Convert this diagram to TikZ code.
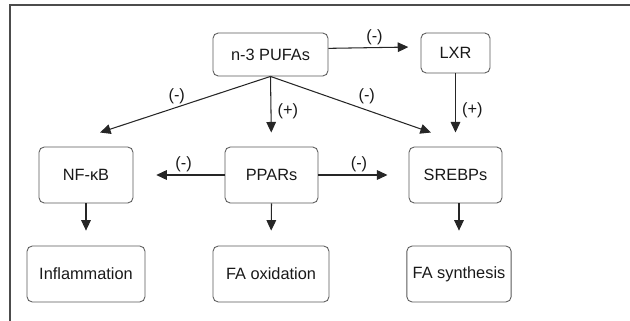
\documentclass[tikz,border=0pt]{standalone}
\usepackage{fontspec}
\setmainfont{Liberation Sans}
\usetikzlibrary{%
  arrows.meta,%
  positioning,%
  calc%
}

\begin{document}
\begin{tikzpicture}[
  x=0.02cm, y=-0.02cm,
  font=\fontsize{9.3}{10}\selectfont,
  >={Triangle[length=6pt,width=5.5pt]},
  line width=0.6pt,
  pbox/.style={rectangle, rounded corners=3pt, draw=black!65, text=black!90, line width=0.5pt, minimum height=1.12cm},
  link/.style={->, draw=black!85},
  sign/.style={text=black!90, inner sep=1.5pt}
]

\useasboundingbox (0,0) rectangle (630,321);
% frame
\draw[black!70, line width=1.1pt] (10,321) -- (10,5) -- (630,5);

\node[pbox, minimum width=2.3cm, minimum height=0.86cm] (pufa) at (270.5,54.5) {n-3 PUFAs};
\node[pbox, minimum width=1.38cm, minimum height=0.8cm] (lxr) at (455.5,53) {LXR};
\node[pbox, minimum width=1.88cm] (nfkb) at (86,175) {NF-κB};
\node[pbox, minimum width=1.86cm] (ppar) at (271.5,175) {PPARs};
\node[pbox, minimum width=1.86cm] (srebp) at (455.5,175) {SREBPs};
\node[pbox, minimum width=2.36cm] (infl) at (86,274) {Inflammation};
\node[pbox, minimum width=2.32cm] (faox) at (271,274) {FA oxidation};
\node[pbox, minimum width=2.0cm] (fasyn) at (459,274) {FA synthesis};

\draw[link, shorten >=7pt] ([yshift=3.5pt]pufa.east) -- ([yshift=3.5pt]lxr.west) node[sign, midway, above] {(-)};
\draw[link] (pufa.south) -- ([xshift=8pt,yshift=8pt]nfkb.north) node[sign, pos=.55, above] {(-)};
\draw[link, shorten >=8pt] (pufa.south) -- (ppar.north) node[sign, pos=.5, right=2pt] {(+)};
\draw[link] (pufa.south) -- ([xshift=-14pt,yshift=8pt]srebp.north) node[sign, pos=.6, above=2pt] {(-)};
\draw[link, shorten >=8pt] (lxr.south) -- (srebp.north) node[sign, midway, right=2pt] {(+)};

\draw[link, shorten >=13pt] (ppar.west) -- (nfkb.east) node[sign, pos=.45, above] {(-)};
\draw[link, shorten >=12pt] (ppar.east) -- (srebp.west) node[sign, pos=.45, above] {(-)};

\draw[link, shorten >=8.5pt] (nfkb.south) -- (infl.north);
\draw[link, shorten >=8.5pt] (ppar.south) -- (faox.north);
\draw[link, shorten >=8.5pt] (srebp.south -| fasyn.north) -- (fasyn.north);

\end{tikzpicture}
\end{document}
